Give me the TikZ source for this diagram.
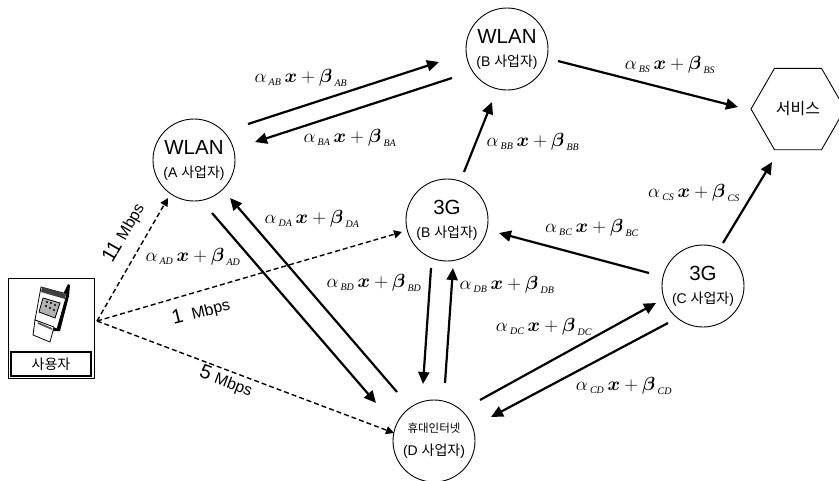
\RequirePackage{fix-cm}
\documentclass[tikz,border=0pt]{standalone}
\usepackage{fontspec}
\setmainfont{Liberation Sans}
\newfontfamily\kr{Noto Sans CJK KR}
\newfontfamily\subf{Liberation Serif}
\usetikzlibrary{arrows.meta,calc,shapes.geometric}
\newcommand\fs[1]{\fontsize{#1}{#1}\selectfont}
\newcommand\rate[1]{\fs{19}$\alpha_{\,\mbox{\subf\itshape\fs{10}#1}}\,\mbox{\boldmath$x$}+\mbox{\boldmath$\beta$}_{\,\mbox{\subf\itshape\fs{10}#1}}$}
\tikzset{
  x=1pt,y=-1pt,
  net/.style={circle,draw,line width=0.9pt,minimum size=82pt,inner sep=0pt,align=center,font=\fontsize{14}{23}\selectfont},
  link/.style={line width=2.2pt,-{Triangle[length=12pt,width=11pt]}},
  dlink/.style={line width=1.4pt,dash pattern=on 5pt off 3pt,-{Triangle[length=8pt,width=8pt]}},
  rlabel/.style={inner sep=0pt},
  speed/.style={inner sep=0pt},
}
\newcommand\two[3]{{\fs{#3}#1}\\{\fs{14}#2}}
\begin{document}
\begin{tikzpicture}
\path[use as bounding box,fill=white] (0,0) rectangle (839,480);
\clip (0,0) rectangle (839,480);
% nodes
\node[net] (A) at (194,160) {\two{WLAN}{(A {\kr 사업자})}{20.5}};
\node[net] (B) at (507,49) {\two{WLAN}{(B {\kr 사업자})}{20.5}};
\node[net] (G) at (447,220) {\two{3G}{(B {\kr 사업자})}{20.5}};
\node[net] (C) at (703,286) {\two{3G}{(C {\kr 사업자})}{20.5}};
\node[net] (D) at (434,441) {{\kr\fs{11.5}휴대인터넷}\\{\fs{14}(D {\kr 사업자})}};
\node[regular polygon,regular polygon sides=6,draw,line width=0.9pt,minimum size=94pt,inner sep=0pt] (S) at (798,109) {\kr\fs{16}서비스};
\node[draw,line width=1pt,minimum width=86pt,minimum height=100pt,inner sep=0pt] (U) at (51,328) {};
\node[draw,line width=1.3pt,minimum width=80pt,minimum height=24pt,inner sep=0pt] (UL) at (51,364) {\kr\fs{14}사용자};
% phone
\fill[black] (64,292) -- (68,284) -- (70,285) -- (69,296) -- (60,331) -- (52,331) -- cycle;
\filldraw[fill=white,draw=black,line width=0.8pt] (41,287) -- (67,294) -- (57,329) -- (35,320) -- cycle;
\fill[black!75] (42,287) -- (66,294) -- (65,299) -- (41,292) -- cycle;
\filldraw[fill=black!30,draw=black,line width=0.8pt] (43,298) -- (60,303) -- (55,318) -- (39,312) -- cycle;
\foreach \p in {(47,302),(51,303),(55,305),(46,306),(50,308),(54,310)} \fill[black] \p circle (1.1pt);
\filldraw[fill=white,draw=black,line width=0.8pt] (35,320) -- (54,327) -- (50,342) -- (33,335) -- cycle;
\draw[black!65,line width=1.8pt] (38,323) -- (52,329);
% connectors
\draw[link] ($(A)+(54,-36)$) -- ($(B)+(-68,13)$);
\draw[link] ($(B)+(-55,29)$) -- ($(A)+(61,-18)$);
\draw[link] ($(B)+(51,12)$) -- ($(S)+(-60,-2)$);
\draw[link] ($(C)+(20,-43)$) -- ($(S)+(-26,53)$);
\draw[link] ($(C)+(-54,-13)$) -- ($(G)+(52,13)$);
\draw[link] ($(G)+(17,-48)$) -- ($(B)+(-15,53)$);
\draw[link] ($(D)+(46,-41)$) -- ($(C)+(-47,17)$);
\draw[link] ($(C)+(-35,37)$) -- ($(D)+(57,-24)$);
\draw[link] ($(G)+(-16,48)$) -- ($(D)+(-11,-57)$);
\draw[link] ($(D)+(11,-58)$) -- ($(G)+(6,48)$);
\draw[link] ($(A)+(18,53)$) -- ($(D)+(-58,-38)$);
\draw[link] ($(D)+(-37,-49)$) -- ($(A)+(36,38)$);
\draw[dlink] ($(U)+(46,-7)$) -- ($(A)+(-26,38)$);
\draw[dlink] ($(U)+(46,-7)$) -- ($(G)+(-45,12)$);
\draw[dlink] ($(U)+(46,-7)$) -- ($(D)+(-40,-8)$);
% labels
\node[rlabel] (lAB) at (301,78) {\rate{AB}};
\node[rlabel] (lBA) at (350,138) {\rate{BA}};
\node[rlabel] (lDA) at (312,219) {\rate{DA}};
\node[rlabel] (lAD) at (193,257) {\rate{AD}};
\node[rlabel] (lBD) at (374,283) {\rate{BD}};
\node[rlabel] (lDB) at (507,285) {\rate{DB}};
\node[rlabel] (lDC) at (544,327) {\rate{DC}};
\node[rlabel] (lCD) at (624,386) {\rate{CD}};
\node[rlabel] (lBC) at (592,228) {\rate{BC}};
\node[rlabel] (lCS) at (694,193) {\rate{CS}};
\node[rlabel] (lBS) at (670,65) {\rate{BS}};
\node[rlabel] (lBB) at (533,142) {\rate{BB}};
\node[speed,rotate=60] (s11) at (124,233) {\fs{20}11\hspace{5pt}\fs{16}Mbps};
\node[speed,rotate=14] (s1) at (201,312) {\fs{20}1\hspace{9pt}\fs{16}Mbps};
\node[speed,rotate=-21] (s5) at (226,382) {\fs{20}5\hspace{5pt}\fs{16}Mbps};
\end{tikzpicture}
\end{document}
